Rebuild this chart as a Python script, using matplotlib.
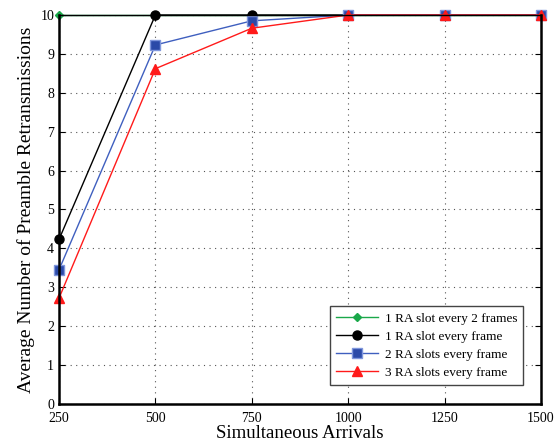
import matplotlib.pyplot as plt
from matplotlib.ticker import MultipleLocator

plt.rcParams['font.family'] = ['Liberation Serif', 'DejaVu Serif']

arrivals = [250, 500, 750, 1000, 1250, 1500]
one_slot_2frames = [10, 10, 10, 10, 10, 10]
one_slot_frame = [4.23, 10, 10, 10, 10, 10]
two_slots_frame = [3.45, 9.23, 9.85, 10, 10, 10]
three_slots_frame = [2.72, 8.62, 9.66, 10, 10, 10]

labels = ['1 RA slot every 2 frames', '1 RA slot every frame',
          '2 RA slots every frame', '3 RA slots every frame']

fig = plt.figure(figsize=(5.59, 4.41), dpi=100)
ax = fig.add_axes([59 / 559, 1 - 404 / 441, (541 - 59) / 559, (404 - 15) / 441])

# plotted in legend order, later series drawn over earlier ones
ax.plot(arrivals, one_slot_2frames, color='#1aa84a', lw=1, marker='D', ms=4.5,
        label=labels[0], clip_on=False)
ax.plot(arrivals, one_slot_frame, color='black', lw=1, marker='o', ms=6.5,
        label=labels[1], clip_on=False)
ax.plot(arrivals, two_slots_frame, color='#3f5fbf', lw=1, marker='s', ms=6.5,
        mfc='#2b4aa8', mec='#7f96dc', label=labels[2], clip_on=False)
ax.plot(arrivals, three_slots_frame, color='#ff1a1a', lw=1, marker='^', ms=7,
        label=labels[3], clip_on=False)

ax.set_xlim(250, 1500)
ax.set_ylim(0, 10)
ax.set_xticks(arrivals)
ax.yaxis.set_major_locator(MultipleLocator(1))
ax.tick_params(direction='in', top=True, right=True, labelsize=10, length=4)
ax.tick_params(axis='x', pad=6)
ax.grid(True, linestyle=(0, (1, 4)), color='#555555', lw=0.8)
for side in ['left', 'bottom', 'right']:
    ax.spines[side].set_linewidth(1.8)
ax.spines['top'].set_linewidth(1.0)

ax.set_xlabel('Simultaneous Arrivals', fontsize=13.5, labelpad=0)
ax.set_ylabel('Average Number of Preamble Retransmissions', fontsize=14, labelpad=4)

leg = ax.legend(loc='lower right', borderaxespad=0,
                bbox_to_anchor=(523 / 559, 1 - 385 / 441), bbox_transform=fig.transFigure,
                fontsize=9.5, fancybox=False, framealpha=1, edgecolor='#444444',
                handlelength=3.2, borderpad=0.45, labelspacing=0.45, handletextpad=0.5)
leg.get_frame().set_linewidth(1.0)

fig.savefig('out.png', dpi=100)
